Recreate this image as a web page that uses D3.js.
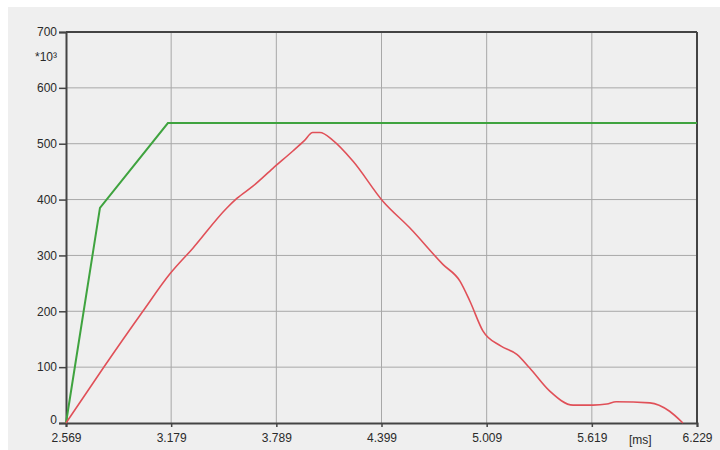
<!DOCTYPE html>
<html><head><meta charset="utf-8">
<script src="https://cdn.jsdelivr.net/npm/d3@7"></script>
<style>html,body{margin:0;padding:0;background:#fff;}svg{display:block;}</style>
</head><body>
<script>
const xTicks = [2.569, 3.179, 3.789, 4.399, 5.009, 5.619, 6.229];
const xTickLabels = ["2.569", "3.179", "3.789", "4.399", "5.009", "5.619", "6.229"];
const yTicks = [0, 100, 200, 300, 400, 500, 600, 700];
const greenX = [2.569, 2.766, 3.160, 6.229];
const greenY = [0, 385, 537, 537];
const redX = [2.569, 2.784, 3.015, 3.172, 3.305, 3.502, 3.560, 3.653, 3.769, 3.885, 3.950, 4.000, 4.042, 4.117, 4.233, 4.407, 4.564, 4.755, 4.854, 4.912, 4.987, 5.090, 5.184, 5.260, 5.375, 5.510, 5.625, 5.706, 5.760, 5.956, 6.070, 6.147];
const redY = [0, 98, 200, 267, 313, 385, 402, 424, 456, 487, 505, 520, 520, 506, 469, 397, 349, 284, 254, 218, 165, 138, 123, 98, 57, 32, 32, 34, 38, 36, 21, 0];

const W = 720, H = 450;
const FONT = "Arial, 'Liberation Sans', sans-serif";
const svg = d3.select("body").append("svg").attr("width", W).attr("height", H);
svg.append("rect").attr("x", 8).attr("y", 7).attr("width", W - 8).attr("height", H - 7).attr("fill", "#efefef");

const x = d3.scaleLinear().domain([2.569, 6.229]).range([66, 697]);
const y = d3.scaleLinear().domain([0, 700]).range([423, 32]);

// grid
const g = svg.append("g");
g.selectAll(".vg").data(xTicks.slice(1, -1)).join("line")
  .attr("x1", d => x(d)).attr("x2", d => x(d)).attr("y1", y(700)).attr("y2", y(0))
  .attr("stroke", "#a8a8a8").attr("stroke-width", 1);
g.selectAll(".hg").data(yTicks.slice(1, -1)).join("line")
  .attr("x1", x(2.569)).attr("x2", x(6.229)).attr("y1", d => y(d)).attr("y2", d => y(d))
  .attr("stroke", "#a8a8a8").attr("stroke-width", 1);

// axes
const yAxis = d3.axisLeft(y).tickValues(yTicks).tickSize(7).tickPadding(2).tickFormat(d3.format("d"));
const ya = svg.append("g").attr("transform", `translate(${x(2.569)},0)`).call(yAxis);
const xAxis = d3.axisBottom(x).tickValues(xTicks).tickSize(4).tickPadding(6).tickFormat((d, i) => xTickLabels[i]);
const xa = svg.append("g").attr("transform", `translate(0,${y(0)})`).call(xAxis);
[ya, xa].forEach(a => {
  a.select(".domain").attr("stroke", "#444").attr("stroke-width", 2);
  a.selectAll(".tick line").attr("stroke", "#444").attr("stroke-width", 1.5);
  a.selectAll("text").attr("fill", "#2a2a2a").style("font-family", FONT).style("font-size", "12px");
});
ya.selectAll(".tick").filter(d => d === 0).select("text").attr("dy", "0.0em");

// top and right frame
svg.append("line").attr("x1", x(2.569)).attr("x2", x(6.229)).attr("y1", y(700)).attr("y2", y(700)).attr("stroke", "#444").attr("stroke-width", 2);
svg.append("line").attr("x1", x(6.229)).attr("x2", x(6.229)).attr("y1", y(700)).attr("y2", y(0)).attr("stroke", "#444").attr("stroke-width", 2);

// unit labels
svg.append("text").attr("x", 35).attr("y", 61).attr("fill", "#2a2a2a")
  .style("font-family", FONT).style("font-size", "12px").text("*10³");
svg.append("text").attr("x", 629).attr("y", 444).attr("fill", "#2a2a2a")
  .style("font-family", FONT).style("font-size", "12px").text("[ms]");

// lines
const line = d3.line().x(d => x(d[0])).y(d => y(d[1]));
svg.append("path").datum(greenX.map((v, i) => [v, greenY[i]])).attr("d", line)
  .attr("fill", "none").attr("stroke", "#3fa33f").attr("stroke-width", 2);
svg.append("path").datum(redX.map((v, i) => [v, redY[i]])).attr("d", line.curve(d3.curveMonotoneX))
  .attr("fill", "none").attr("stroke", "#e05058").attr("stroke-width", 1.6);
</script>
</body></html>
